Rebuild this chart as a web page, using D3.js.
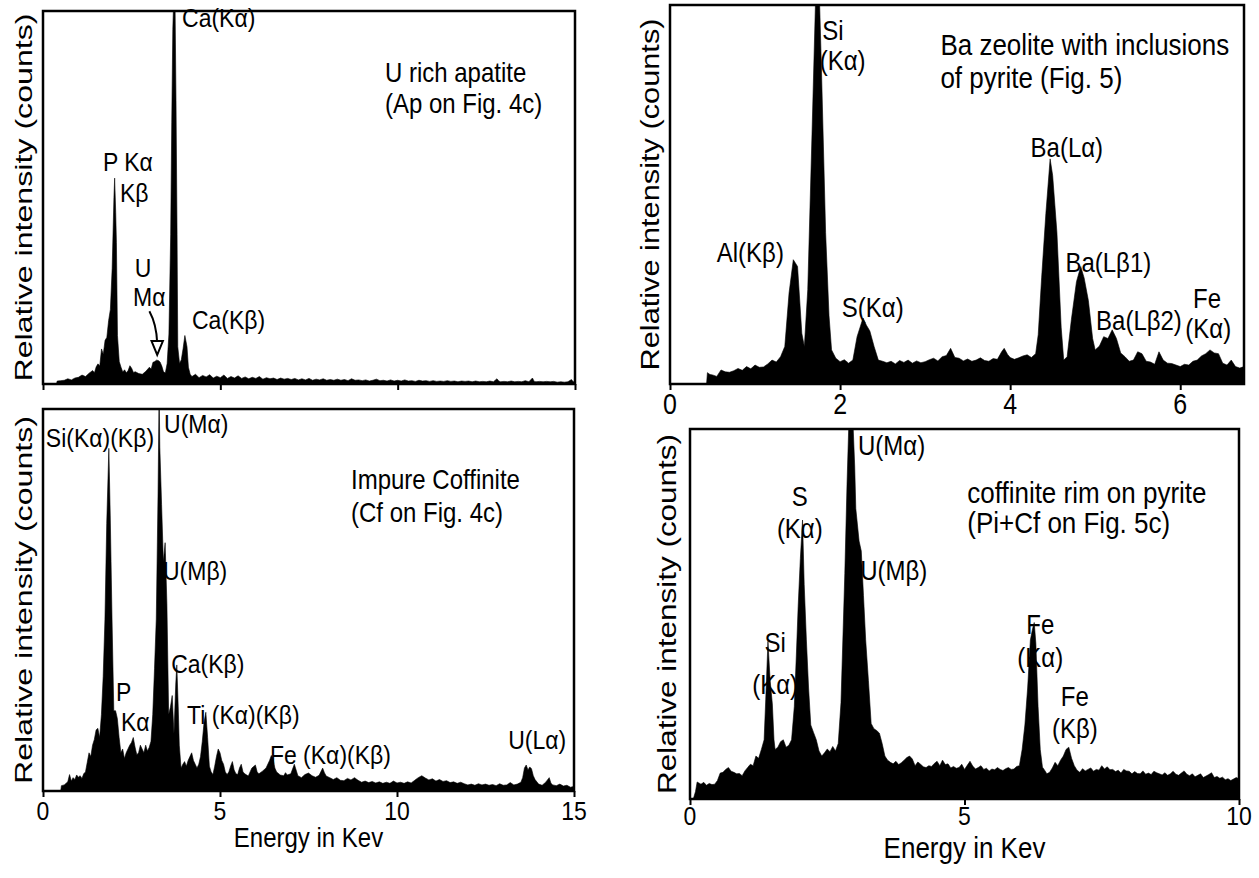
<!DOCTYPE html>
<html><head><meta charset="utf-8">
<script src="https://cdn.jsdelivr.net/npm/d3@7"></script>
<style>
body{margin:0;background:#fff}
text{font-family:"Liberation Sans",Arial,Helvetica,sans-serif;fill:#000}
</style>
</head><body>
<svg id="c" width="1259" height="878"></svg>
<script>
// ---- DATA: [energy keV, relative intensity %] ----
const apatite = [[0.38,0],[0.40,0.8],[0.5,0.9],[0.6,1.0],[0.7,1.4],[0.8,1.1],[0.9,1.6],[1.0,1.8],[1.1,2.4],[1.2,2.0],[1.3,2.9],[1.4,3.6],[1.45,3.0],[1.5,4.6],[1.55,5.4],[1.6,4.8],[1.65,9.4],[1.7,8.0],[1.75,11.7],[1.8,12.5],[1.85,17],[1.9,20],[1.95,31],[2.0,50],[2.02,55.2],[2.05,46],[2.07,38],[2.1,13],[2.15,6],[2.2,4.5],[2.25,3.2],[2.3,3.8],[2.35,3.0],[2.4,3.6],[2.45,4.9],[2.5,4.2],[2.55,3.1],[2.6,3.3],[2.7,2.8],[2.8,2.6],[2.9,3.4],[3.0,4.5],[3.05,4.0],[3.1,5.8],[3.15,6.0],[3.2,6.4],[3.25,6.3],[3.3,5.9],[3.35,4.8],[3.4,3.2],[3.45,3.0],[3.5,5.5],[3.55,13.4],[3.6,40],[3.63,70],[3.66,95],[3.69,105],[3.72,105],[3.75,76],[3.78,40],[3.8,10],[3.85,5.5],[3.9,6.5],[3.95,9.5],[4.0,13],[4.03,11.5],[4.06,10],[4.1,4.5],[4.15,2.6],[4.2,2.0],[4.3,2.6],[4.4,1.7],[4.5,2.3],[4.6,1.9],[4.7,2.5],[4.8,1.6],[4.9,2.1],[5.0,1.7],[5.1,2.4],[5.2,1.5],[5.3,2.0],[5.4,1.6],[5.5,2.2],[5.6,1.5],[5.7,1.9],[5.8,1.4],[5.9,1.8],[6.0,1.5],[6.1,2.0],[6.2,1.3],[6.3,1.7],[6.4,1.4],[6.5,1.6],[6.6,1.2],[6.7,1.6],[6.8,1.3],[6.9,1.5],[7.0,1.2],[7.1,1.5],[7.2,1.1],[7.3,1.4],[7.4,1.1],[7.5,1.5],[7.6,1.0],[7.7,1.3],[7.8,1.1],[7.9,1.4],[8.0,1.0],[8.1,1.2],[8.2,1.0],[8.3,1.3],[8.4,1.0],[8.5,1.2],[8.6,0.9],[8.7,1.4],[8.8,1.0],[8.9,1.1],[9.0,0.9],[9.1,1.1],[9.2,0.8],[9.3,1.0],[9.4,1.3],[9.5,0.9],[9.6,1.0],[9.7,0.8],[9.8,1.1],[9.9,0.8],[10.0,1.0],[10.1,0.8],[10.2,1.1],[10.3,0.8],[10.4,0.9],[10.5,0.7],[10.6,1.0],[10.7,0.8],[10.8,0.9],[10.9,0.7],[11.0,0.9],[11.1,0.7],[11.2,0.8],[11.3,0.7],[11.4,0.9],[11.5,0.7],[11.6,0.8],[11.7,0.6],[11.8,0.8],[11.9,0.7],[12.0,0.8],[12.1,0.6],[12.2,0.8],[12.3,0.6],[12.4,0.7],[12.5,0.6],[12.6,0.8],[12.7,0.6],[12.8,1.4],[12.85,0.8],[12.9,0.6],[13.0,0.7],[13.1,0.6],[13.2,0.8],[13.3,0.6],[13.4,0.7],[13.5,0.6],[13.6,0.9],[13.7,0.6],[13.8,1.6],[13.85,0.7],[13.9,0.6],[14.0,0.7],[14.1,0.6],[14.2,0.7],[14.3,0.6],[14.4,0.7],[14.5,0.5],[14.6,0.6],[14.7,0.5],[14.8,0.6],[14.9,1.2],[14.95,0.6],[15.0,0.6]];

const zeolite = [[0.43,0],[0.44,3.0],[0.47,2.5],[0.5,2.4],[0.55,2.0],[0.6,3.7],[0.65,3.2],[0.7,3.1],[0.75,3.5],[0.8,4.1],[0.85,3.6],[0.9,4.6],[0.95,4.0],[1.0,5.0],[1.05,4.4],[1.1,4.5],[1.15,5.3],[1.2,6.3],[1.25,5.8],[1.3,7.2],[1.35,9.9],[1.4,24],[1.45,32.8],[1.5,31],[1.55,13.4],[1.58,9.9],[1.62,24.9],[1.67,66],[1.71,100],[1.73,105],[1.76,100],[1.78,84],[1.83,40],[1.87,18],[1.9,9],[1.95,6.8],[2.0,5.9],[2.05,6.4],[2.1,5.5],[2.15,6.3],[2.2,12.5],[2.27,17.4],[2.31,15.5],[2.35,14],[2.4,9.9],[2.45,6.3],[2.5,6.0],[2.55,5.6],[2.6,6.0],[2.65,5.3],[2.7,6.2],[2.75,5.7],[2.8,6.3],[2.85,5.5],[2.9,6.1],[2.95,5.6],[3.0,5.9],[3.05,6.4],[3.1,6.8],[3.15,6.1],[3.2,7.2],[3.25,7.5],[3.3,9.4],[3.35,7.0],[3.4,6.8],[3.45,6.1],[3.5,6.6],[3.55,6.0],[3.6,6.3],[3.65,6.9],[3.7,6.2],[3.75,6.0],[3.8,6.7],[3.85,6.5],[3.9,8.5],[3.93,9.4],[3.97,7.8],[4.0,7.0],[4.05,6.5],[4.1,6.9],[4.15,7.4],[4.2,7.7],[4.25,7.0],[4.3,8.0],[4.33,13],[4.37,28],[4.42,45],[4.47,59.4],[4.5,55],[4.55,40],[4.6,15],[4.63,6.3],[4.67,7.2],[4.72,17],[4.78,27],[4.83,31],[4.87,28],[4.92,22],[4.97,12],[5.0,9],[5.05,10],[5.1,12.5],[5.15,12],[5.2,14.3],[5.25,12],[5.3,8.2],[5.35,7.2],[5.4,6.0],[5.45,6.3],[5.5,8.5],[5.55,8.0],[5.6,6.0],[5.65,5.8],[5.7,5.2],[5.75,8.5],[5.8,6.3],[5.85,5.5],[5.9,5.4],[5.95,5.0],[6.0,4.6],[6.05,5.2],[6.1,5.0],[6.15,6.0],[6.2,6.3],[6.25,7.4],[6.3,8.0],[6.35,9.0],[6.4,8.2],[6.45,8.0],[6.5,5.5],[6.55,5.0],[6.6,6.3],[6.65,4.6],[6.7,4.2],[6.75,4.6],[6.81,4.3]];

const coffinite = [[0.5,0],[0.52,1.4],[0.6,1.6],[0.7,2.4],[0.75,4.3],[0.8,2.6],[0.85,3.5],[0.9,3.0],[0.95,4.2],[1.0,3.6],[1.05,4.0],[1.1,3.3],[1.15,4.5],[1.2,5.0],[1.25,7.5],[1.3,10],[1.35,9],[1.4,12],[1.45,13.5],[1.5,16],[1.55,16.4],[1.6,14],[1.65,20],[1.7,30],[1.75,45],[1.8,70],[1.86,89.7],[1.9,72],[1.95,45],[2.0,21],[2.05,21],[2.1,19],[2.15,14],[2.2,10],[2.25,11],[2.3,8.5],[2.35,10],[2.4,11],[2.45,12],[2.5,12.7],[2.55,14],[2.6,11.5],[2.65,9.5],[2.7,10],[2.75,12],[2.8,11],[2.85,10],[2.9,12],[2.95,10.5],[3.0,11.4],[3.05,13],[3.1,20],[3.15,32],[3.2,45],[3.25,78],[3.28,105],[3.3,90],[3.35,75],[3.4,60],[3.45,65],[3.5,49],[3.55,20],[3.6,22],[3.65,25],[3.7,15],[3.75,28],[3.78,33],[3.82,22],[3.85,12],[3.9,6],[3.95,7],[4.0,7.7],[4.05,6.5],[4.1,8],[4.15,9],[4.2,10],[4.25,8],[4.3,7],[4.35,6],[4.4,7],[4.45,9],[4.5,13],[4.55,18],[4.6,20.6],[4.65,14],[4.7,6.5],[4.75,5],[4.8,4.3],[4.85,6.5],[4.9,9],[4.95,11],[5.0,10],[5.05,8],[5.1,7],[5.15,5],[5.2,4.3],[5.25,5],[5.3,6.5],[5.35,7.7],[5.4,5.5],[5.45,4.5],[5.5,4.3],[5.55,6],[5.6,7],[5.65,5],[5.7,4.5],[5.8,3.9],[5.85,5],[5.9,6],[6.0,6.8],[6.05,5.0],[6.1,4.5],[6.2,5.2],[6.3,6],[6.4,8],[6.45,9.3],[6.5,8.4],[6.55,6],[6.6,5.0],[6.7,4.2],[6.8,4.0],[6.85,4.8],[6.9,4.2],[7.0,4.5],[7.1,7],[7.15,5.5],[7.2,4.0],[7.3,3.5],[7.4,4.3],[7.5,4.7],[7.6,4.0],[7.7,3.6],[7.8,4.1],[7.9,6],[7.95,4.8],[8.0,3.9],[8.1,3.5],[8.2,3.0],[8.3,3.5],[8.4,2.8],[8.5,2.7],[8.6,3.3],[8.7,2.9],[8.8,3.5],[8.9,2.8],[9.0,2.3],[9.1,2.6],[9.2,2.2],[9.3,2.5],[9.4,2.1],[9.5,2.4],[9.6,2.0],[9.7,2.3],[9.8,2.0],[9.9,2.6],[10.0,2.1],[10.1,2.3],[10.2,2.0],[10.3,2.4],[10.4,2.1],[10.5,2.8],[10.6,3.5],[10.7,4.0],[10.8,3.4],[10.9,2.9],[11.0,3.2],[11.1,2.6],[11.2,3.0],[11.3,2.5],[11.4,2.7],[11.5,2.2],[11.6,2.4],[11.7,2.0],[11.8,2.3],[11.9,1.9],[12.0,1.6],[12.1,1.8],[12.2,1.5],[12.3,1.9],[12.4,1.6],[12.5,1.8],[12.6,1.5],[12.7,1.7],[12.8,1.4],[12.9,1.9],[13.0,1.5],[13.1,1.6],[13.2,2.2],[13.3,1.6],[13.4,1.8],[13.5,2.3],[13.55,3.5],[13.6,6],[13.65,6.8],[13.7,5.5],[13.75,6.3],[13.8,5.8],[13.85,4.0],[13.9,3.0],[14.0,1.8],[14.1,1.5],[14.2,2.3],[14.3,3.5],[14.35,2.0],[14.4,1.6],[14.5,1.4],[14.6,1.8],[14.7,1.3],[14.8,1.5],[14.9,1.0],[15.0,1.2]];

const pyrite = [[0.06,0],[0.1,2.0],[0.13,4.6],[0.2,4.0],[0.25,4.5],[0.3,3.7],[0.35,4.2],[0.4,3.9],[0.45,4.0],[0.5,5.0],[0.55,7.0],[0.6,7.2],[0.65,8.0],[0.7,8.5],[0.75,7.5],[0.8,7.2],[0.85,6.8],[0.9,6.9],[0.95,6.3],[1.0,7.6],[1.05,8.5],[1.1,9.4],[1.15,9.0],[1.2,11.6],[1.25,11.0],[1.3,13.4],[1.35,16],[1.38,27],[1.42,42.6],[1.46,32],[1.5,25.7],[1.53,16],[1.55,13.4],[1.6,14],[1.65,15.5],[1.7,16],[1.75,14],[1.8,14.5],[1.85,16],[1.9,25],[1.94,40],[1.97,52],[2.01,65],[2.05,75.4],[2.08,58],[2.12,43],[2.16,30],[2.2,20],[2.25,18],[2.3,16],[2.35,13],[2.4,11.6],[2.45,12.5],[2.5,13.5],[2.55,12.8],[2.6,14.2],[2.65,13],[2.7,15],[2.75,26],[2.82,61],[2.86,85],[2.9,105],[2.96,105],[3.0,90],[3.02,78.5],[3.08,69.7],[3.12,67],[3.16,55],[3.2,43],[3.25,32],[3.3,20.4],[3.35,19],[3.4,18.5],[3.45,17.8],[3.5,15],[3.55,11.6],[3.6,10.5],[3.65,9.9],[3.7,9.5],[3.75,10.2],[3.8,9.3],[3.85,9.8],[3.9,10.5],[3.95,11.2],[4.0,11.6],[4.05,10.8],[4.1,9.0],[4.15,10.0],[4.2,9.4],[4.25,8.7],[4.3,8.5],[4.35,9.0],[4.4,8.8],[4.45,9.6],[4.5,10.2],[4.55,9.0],[4.6,10.5],[4.65,9.3],[4.7,9.5],[4.75,8.4],[4.8,8.8],[4.85,8.3],[4.9,8.5],[4.95,9.4],[5.0,8.0],[5.05,9.1],[5.1,10.2],[5.15,8.9],[5.2,8.1],[5.25,8.5],[5.3,9.0],[5.35,8.0],[5.4,8.3],[5.45,7.6],[5.5,8.1],[5.55,7.9],[5.6,8.5],[5.65,8.0],[5.7,7.7],[5.75,8.2],[5.8,8.5],[5.85,8.0],[5.9,8.1],[5.95,8.8],[6.0,9.0],[6.05,13.4],[6.1,20],[6.15,30],[6.2,43],[6.24,46],[6.27,47.7],[6.3,42],[6.34,25],[6.38,13.4],[6.42,8.6],[6.45,8.0],[6.5,6.8],[6.55,7.2],[6.6,8.4],[6.65,9.9],[6.7,9.0],[6.75,10.5],[6.8,11.6],[6.85,13.4],[6.9,14],[6.95,11],[7.0,9.0],[7.05,7.8],[7.1,7.2],[7.15,8.2],[7.2,7.6],[7.25,8.0],[7.3,8.4],[7.35,7.5],[7.4,8.0],[7.45,7.8],[7.5,9.0],[7.55,8.1],[7.6,8.7],[7.65,7.9],[7.7,8.0],[7.75,7.4],[7.8,7.8],[7.85,7.0],[7.9,8.0],[7.95,7.6],[8.0,7.5],[8.05,6.8],[8.1,7.4],[8.15,6.9],[8.2,6.8],[8.25,7.6],[8.3,6.7],[8.35,7.0],[8.4,6.6],[8.45,7.5],[8.5,7.1],[8.55,6.8],[8.6,6.5],[8.65,7.1],[8.7,6.4],[8.75,6.8],[8.8,7.5],[8.85,6.7],[8.9,6.4],[8.95,7.0],[9.0,7.6],[9.05,6.7],[9.1,6.3],[9.15,6.8],[9.2,6.0],[9.25,6.4],[9.3,6.8],[9.35,5.8],[9.4,6.2],[9.45,6.6],[9.5,7.1],[9.55,5.8],[9.6,6.1],[9.65,5.6],[9.7,5.9],[9.75,5.2],[9.8,5.5],[9.85,5.0],[9.9,5.4],[9.95,5.8],[10.0,5.5]];

const ticksA = [0, 5, 10, 15];
const ticksB = [0, 2, 4, 6];
const ticksC = [0, 5, 10, 15];
const ticksD = [0, 5, 10];

const yTitle = "Relative intensity (counts)";
const xTitle = "Energy in Kev";

// labels: [text, keV, %, anchor]
const labelsA = [["Ca(K\u03b1)",3.92,98.1,"start"],["P K\u03b1",1.69,59.5,"start"],["K\u03b2",2.17,51.2,"start"],["U",2.82,31.1,"middle"],["M\u03b1",2.54,23.3,"start"],["Ca(K\u03b2)",4.2,17.2,"start"]];
const notesA = [["U rich apatite",9.64,83.6],["(Ap on Fig. 4c)",9.64,75.3]];
const labelsB = [["Si",1.79,93.4,"start"],["(K\u03b1)",1.76,85.5,"start"],["Ba(L\u03b1)",4.24,62.3,"start"],["Al(K\u03b2)",0.55,34.8,"start"],["Ba(L\u03b21)",4.65,32.2,"start"],["S(K\u03b1)",2.02,20.3,"start"],["Ba(L\u03b22)",5.01,16.9,"start"],["Fe",6.15,22.7,"start"],["(K\u03b1)",6.06,14.8,"start"]];
const notesB = [["Ba zeolite with inclusions",3.18,89.4],["of pyrite (Fig. 5)",3.18,80.7]];
const labelsC = [["Si(K\u03b1)(K\u03b2)",0.08,92.4,"start"],["U(M\u03b1)",3.42,96.1,"start"],["U(M\u03b2)",3.39,57.6,"start"],["Ca(K\u03b2)",3.62,33.3,"start"],["P",2.06,26,"start"],["K\u03b1",2.2,18,"start"],["Ti (K\u03b1)(K\u03b2)",4.07,19.8,"start"],["Fe (K\u03b1)(K\u03b2)",6.41,9.4,"start"],["U(L\u03b1)",13.14,13.5,"start"]];
const notesC = [["Impure Coffinite",8.7,81.5],["(Cf on Fig. 4c)",8.7,72.9]];
const labelsD = [["U(M\u03b1)",3.06,95.7,"start"],["S",2.0,81.9,"middle"],["(K\u03b1)",2.0,73.1,"middle"],["U(M\u03b2)",3.1,61.7,"start"],["Fe",6.38,47.2,"middle"],["(K\u03b1)",6.38,38.3,"middle"],["Si",1.55,42.3,"middle"],["(K\u03b1)",1.55,31.1,"middle"],["Fe",7.01,27.8,"middle"],["(K\u03b2)",7.01,19.1,"middle"]];
const notesD = [["coffinite rim on pyrite",5.05,82.7],["(Pi+Cf on Fig. 5c)",5.05,74.5]];

// ---- LAYOUT ----
const SY = 1.15; // vertical stretch of the lettering in the original figure
const panels = [
  {id:"A", data:apatite, dom:[0,15], box:[43,11,575,384], ticks:ticksA, showLabels:false, labels:labelsA, notes:notesA, ytx:23, yLen:368, xTitle:false, tickDy:20, titleDy:46, fs:{peak:23,note:24,tick:24,title:24}},
  {id:"B", data:zeolite, dom:[0,6.75], box:[670,5,1244,384], ticks:ticksB, showLabels:true, labels:labelsB, notes:notesB, ytx:650, yLen:352, xTitle:false, tickDy:20, titleDy:46, fs:{peak:24,note:26,tick:25,title:26}},
  {id:"C", data:coffinite, dom:[0,15], box:[43,409,574,791], ticks:ticksC, showLabels:true, labels:labelsC, notes:notesC, ytx:23, yLen:368, xTitle:true, tickDy:20, titleDy:46, fs:{peak:23,note:24,tick:23,title:24}},
  {id:"D", data:pyrite, dom:[0,10], box:[690,429,1239,799], ticks:ticksD, showLabels:true, labels:labelsD, notes:notesD, ytx:667, yLen:360, xTitle:true, tickDy:17, titleDy:49, fs:{peak:24,note:26,tick:23,title:26}}
];

const svg = d3.select("#c");

function label(g, px, py, str, size, anchor) {
  g.append("text")
    .attr("transform", `translate(${px},${py}) scale(1,${SY})`)
    .attr("text-anchor", anchor).attr("dominant-baseline", "central")
    .attr("font-size", size).text(str);
}

panels.forEach(p => {
  const [x0,y0,x1,y1] = p.box;
  const x = d3.scaleLinear().domain(p.dom).range([x0,x1]);
  const y = d3.scaleLinear().domain([0,100]).range([y1,y0]);
  const g = svg.append("g");

  g.append("clipPath").attr("id","clip"+p.id)
    .append("rect").attr("x",x0).attr("y",y0).attr("width",x1-x0).attr("height",y1-y0);

  const area = d3.area().x(d=>x(d[0])).y0(y(0)).y1(d=>y(d[1]));
  g.append("path").datum(p.data).attr("d",area)
    .attr("fill","#000").attr("stroke","#000").attr("stroke-width",0.6)
    .attr("clip-path","url(#clip"+p.id+")");

  // frame
  g.append("rect").attr("x",x0).attr("y",y0).attr("width",x1-x0).attr("height",y1-y0)
    .attr("fill","none").attr("stroke","#000").attr("stroke-width",2.5);

  // x axis ticks
  const ax = d3.axisBottom(x).tickValues(p.ticks).tickSize(6).tickFormat(() => "");
  const axg = g.append("g").attr("transform",`translate(0,${y1})`).call(ax);
  axg.select(".domain").remove();
  axg.selectAll(".tick line").attr("stroke","#000").attr("stroke-width",2);
  axg.selectAll(".tick text").remove();
  if (p.showLabels) {
    p.ticks.forEach(t => label(g, x(t), y1 + p.tickDy, d3.format("d")(t), p.fs.tick, "middle"));
  }

  // y title
  g.append("text").attr("transform",`translate(${p.ytx},${(y0+y1)/2}) rotate(-90)`)
    .attr("text-anchor","middle").attr("dominant-baseline","central")
    .attr("font-size",p.fs.title).attr("textLength",p.yLen).attr("lengthAdjust","spacingAndGlyphs")
    .text(yTitle);

  if (p.xTitle) label(g, (x0+x1)/2, y1 + p.titleDy, xTitle, p.fs.title, "middle");

  p.labels.forEach(l => label(g, x(l[1]), y(l[2]), l[0], p.fs.peak, l[3]));
  p.notes.forEach(n => label(g, x(n[1]), y(n[2]), n[0], p.fs.note, "start"));

  if (p.id === "A") {
    // arrow to U M-alpha bump
    const pth = d3.path();
    pth.moveTo(x(3.0), y(19.5));
    pth.quadraticCurveTo(x(3.2), y(16), x(3.22), y(11));
    g.append("path").attr("d",pth.toString()).attr("fill","none").attr("stroke","#000").attr("stroke-width",2);
    const head = d3.path();
    head.moveTo(x(3.06), y(11.5));
    head.lineTo(x(3.38), y(11.5));
    head.lineTo(x(3.22), y(7.8));
    head.closePath();
    g.append("path").attr("d",head.toString()).attr("fill","#fff").attr("stroke","#000").attr("stroke-width",2);
  }
});
</script>
</body></html>
